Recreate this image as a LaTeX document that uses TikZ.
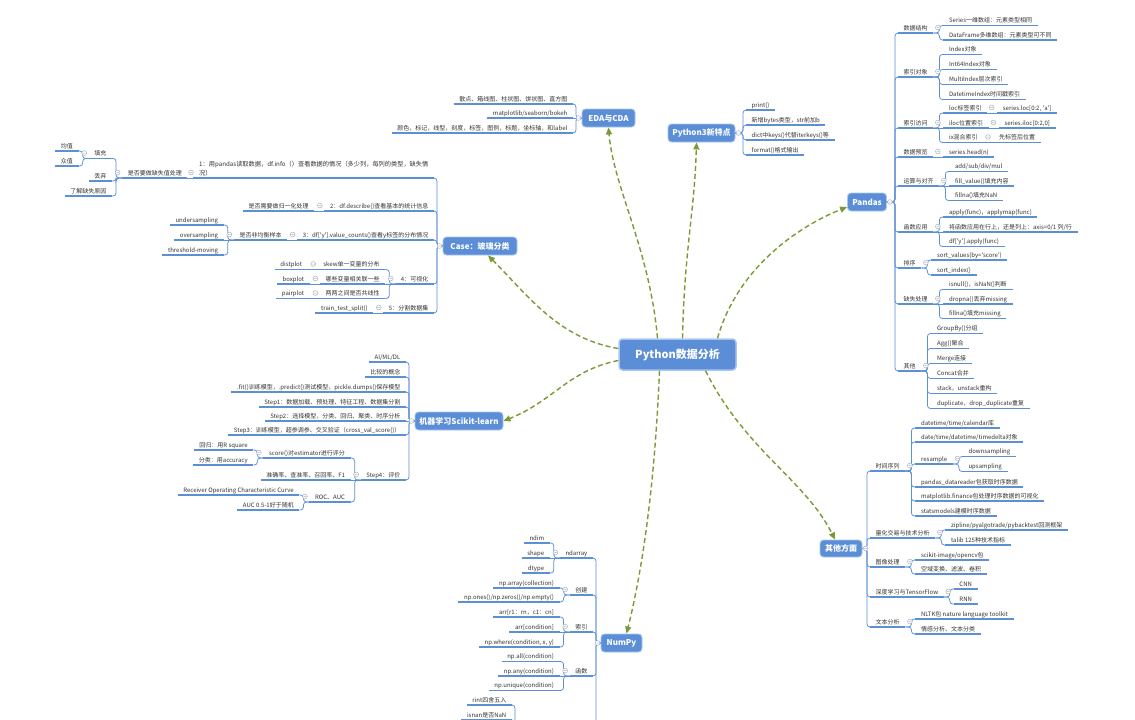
\documentclass[tikz,border=0pt]{standalone}
\usepackage{fontspec}
\setmainfont{Noto Sans CJK SC}[Ligatures=TeXOff]
\usetikzlibrary{calc,arrows.meta}
\definecolor{nblue}{HTML}{5B8ED7}
\definecolor{nborder}{HTML}{A9C6EE}
\definecolor{lblue}{HTML}{5D8FD5}
\definecolor{dgreen}{HTML}{7A9A36}
\definecolor{circ}{HTML}{A6B2C4}
\definecolor{txt}{HTML}{333333}
\tikzset{
  tbase/.style={font=\fontsize{6}{7}\selectfont, text=txt, inner xsep=5.5pt, inner ysep=1.5pt},
  t/.style={tbase, text height=5pt, text depth=1.2pt},
  tr/.style={t, anchor=south west},
  tl/.style={t, anchor=south east},
  topic/.style={rounded corners=3.5pt, fill=nblue, draw=nborder, line width=0.9pt, text=white, font=\bfseries\fontsize{8}{9}\selectfont, minimum height=18pt, inner xsep=2pt, inner ysep=0pt},
  br/.style={draw=lblue, line width=0.75pt, rounded corners=3pt},
  ul/.style={draw=lblue, line width=1.2pt},
  mainarr/.style={draw=dgreen, line width=1.4pt, dash pattern=on 5pt off 3pt, -{Triangle[length=7pt,width=6pt]}},
}
\def\kg{10}
\newcommand\cmk[1]{\fill[white] (#1) circle (2.4pt); \draw[circ, line width=0.5pt] (#1) circle (2.4pt) ($(#1)+(-1.3,0)$) -- ($(#1)+(1.3,0)$);}
\newcommand\cmR[1]{\coordinate (cmtmp) at ($(#1.south east)+(4.5,-5.5)$); \cmk{cmtmp}}
\newcommand\cmL[1]{\coordinate (cmtmp) at ($(#1.south west)+(-4.5,-5.5)$); \cmk{cmtmp}}
\newcommand\kidR[4]{%
  \node[tr] (#2) at ($(#1.south east)+(\kg,#3)$) {#4};
  \ifdim#3pt=0pt \draw[br] (#1.south east) -- (#2.south west);
  \else \draw[br] (#1.south east) -- ++(\kg-4,0) |- (#2.south west);\fi
  \draw[ul] (#2.south west) -- (#2.south east);}
\newcommand\kidL[4]{%
  \node[tl] (#2) at ($(#1.south west)+(-\kg,#3)$) {#4};
  \ifdim#3pt=0pt \draw[br] (#1.south west) -- (#2.south east);
  \else \draw[br] (#1.south west) -- ++(-\kg+4,0) |- (#2.south east);\fi
  \draw[ul] (#2.south west) -- (#2.south east);}
\newcommand\topR[5]{%
  \node[tr] (#2) at (#3,#4) {#5};
  \draw[br] (#1.east) -| ($(#2.south west)+(-3,0)$) -- (#2.south west);
  \draw[ul] (#2.south west) -- (#2.south east);}
\newcommand\topL[5]{%
  \node[tl] (#2) at (#3,#4) {#5};
  \draw[br] (#1.west) -| ($(#2.south east)+(3,0)$) -- (#2.south east);
  \draw[ul] (#2.south west) -- (#2.south east);}
\newcommand\topLs[5]{%
  \node[tl] (#2) at (#3,#4) {#5};
  \draw[br] (#1.west) -- (#2.south east);
  \draw[ul] (#2.south west) -- (#2.south east);}
\begin{document}
\begin{tikzpicture}[x=1pt,y=-1pt]
\useasboundingbox (0,0) rectangle (1135,720);
\clip (0,0) rectangle (1135,720);
\fill[white] (0,0) rectangle (1135,720);

% ---------- main topics ----------
\node[topic, minimum width=117pt, minimum height=31pt, line width=1.5pt, font=\bfseries\fontsize{11}{12}\selectfont] (C) at (677.5,354.5) {Python数据分析};
\node[topic, minimum width=53pt] (EDA) at (608.5,118) {EDA与CDA};
\node[topic, minimum width=67pt] (P3) at (701.5,133) {Python3新特点};
\node[topic, minimum width=39pt] (PD) at (867,202) {Pandas};
\node[topic, minimum width=74pt] (CASE) at (480,246) {Case：玻璃分类};
\node[topic, minimum width=88pt] (ML) at (459,421) {机器学习Scikit-learn};
\node[topic, minimum width=42pt, minimum height=17pt] (OT) at (841,548.5) {其他方面};
\node[topic, minimum width=41pt] (NP) at (621.5,643) {NumPy};

% ---------- dashed main connectors ----------
\draw[mainarr] ([xshift=-20pt]C.north) .. controls +(-8,-90) and +(5,60) .. (EDA.south);
\draw[mainarr] ([xshift=5pt]C.north) .. controls +(2,-90) and +(-2,70) .. ([xshift=-5pt]P3.south);
\draw[mainarr] ([xshift=40pt]C.north) .. controls +(20,-70) and +(-50,20) .. ([yshift=-5pt]PD.west);
\draw[mainarr] ([yshift=6pt]C.west) .. controls +(-60,-10) and +(40,40) .. ([xshift=8pt]CASE.south);
\draw[mainarr] ([yshift=-6pt]C.west) .. controls +(-50,10) and +(50,-20) .. (ML.east);
\draw[mainarr] ([xshift=-18pt]C.south) .. controls +(-5,120) and +(15,-60) .. ([xshift=5pt]NP.north);
\draw[mainarr] ([xshift=28pt]C.south) .. controls +(40,80) and +(-30,-60) .. ([xshift=-6pt]OT.north);

% ---------- Python3 ----------
\topR{P3}{p3a}{746}{110}{print()}
\topR{P3}{p3b}{746}{125}{新增bytes类型，str前加b}
\topR{P3}{p3c}{746}{140}{dict中keys()代替iterkeys()等}
\topR{P3}{p3d}{746}{155}{format()格式输出}
\coordinate (m1) at ($(P3.east)+(3,0)$); \cmk{m1}

% ---------- EDA ----------
\topL{EDA}{e1}{573}{104}{散点、箱线图、柱状图、饼状图、直方图}
\topLs{EDA}{e2}{573}{118}{matplotlib/seaborn/bokeh}
\topL{EDA}{e3}{573}{133}{颜色，标记，线型，刻度，标签，图例，标题，坐标轴，和label}
\coordinate (m2) at ($(EDA.west)+(-3,0)$); \cmk{m2}

% ---------- Pandas ----------
\topR{PD}{pd1}{898}{33}{数据结构}
\kidR{pd1}{pd1a}{-7.5}{Series一维数组：元素类型相同}
\kidR{pd1}{pd1b}{7}{DataFrame多维数组：元素类型可不同}
\cmR{pd1}
\topR{PD}{pd2}{898}{77}{索引对象}
\kidR{pd2}{pd2a}{-22.5}{Index对象}
\kidR{pd2}{pd2b}{-7.5}{Int64Index对象}
\kidR{pd2}{pd2c}{7.5}{MultiIndex层次索引}
\kidR{pd2}{pd2d}{22.5}{DatetimeIndex时间戳索引}
\cmR{pd2}
\topR{PD}{pd3}{898}{128}{索引访问}
\kidR{pd3}{pd3a}{-15}{loc标签索引}
\kidR{pd3a}{pd3aa}{0}{series.loc[0:2, 'a']}
\cmR{pd3a}
\kidR{pd3}{pd3b}{0}{iloc位置索引}
\kidR{pd3b}{pd3bb}{0}{series.iloc[0:2,0]}
\cmR{pd3b}
\kidR{pd3}{pd3c}{14.5}{ix混合索引}
\kidR{pd3c}{pd3cc}{0}{先标签后位置}
\cmR{pd3c}
\cmR{pd3}
\topR{PD}{pd4}{898}{157}{数据预览}
\kidR{pd4}{pd4a}{0}{series.head(n)}
\cmR{pd4}
\topR{PD}{pd5}{898}{186}{运算与对齐}
\kidR{pd5}{pd5a}{-14.5}{add/sub/div/mul}
\kidR{pd5}{pd5b}{0}{fill\_value()填充内容}
\kidR{pd5}{pd5c}{14.5}{fillna()填充NaN}
\cmR{pd5}
\topR{PD}{pd6}{898}{232}{函数应用}
\kidR{pd6}{pd6a}{-15}{apply(func)，applymap(func)}
\kidR{pd6}{pd6b}{0}{将函数应用在行上，还是列上：axis=0/1 列/行}
\kidR{pd6}{pd6c}{14.5}{df['y'].apply(func)}
\cmR{pd6}
\topR{PD}{pd7}{898}{268}{排序}
\kidR{pd7}{pd7a}{-8}{sort\_values(by='score')}
\kidR{pd7}{pd7b}{7}{sort\_index()}
\cmR{pd7}
\topR{PD}{pd8}{898}{304}{缺失处理}
\kidR{pd8}{pd8a}{-14.5}{isnull()，isNaN()判断}
\kidR{pd8}{pd8b}{0}{dropna()丢弃missing}
\kidR{pd8}{pd8c}{14.5}{fillna()填充missing}
\cmR{pd8}
\topR{PD}{pd9}{898}{371}{其他}
\kidR{pd9}{pd9a}{-37.5}{GroupBy()分组}
\kidR{pd9}{pd9b}{-22.5}{Agg()聚合}
\kidR{pd9}{pd9c}{-7.5}{Merge连接}
\kidR{pd9}{pd9d}{7.5}{Concat合并}
\kidR{pd9}{pd9e}{22.5}{stack，unstack重构}
\kidR{pd9}{pd9f}{37.5}{duplicate，drop\_duplicate重复}
\cmR{pd9}
\coordinate (m3) at ($(PD.east)+(3,0)$); \cmk{m3}

% ---------- Other ----------
\topR{OT}{ot1}{870}{471}{时间序列}
\kidR{ot1}{ot1a}{-43}{datetime/time/calendar库}
\kidR{ot1}{ot1b}{-29}{date/time/datetime/timedelta对象}
\kidR{ot1}{ot1c}{-7}{resample}
\kidR{ot1c}{ot1c1}{-7.5}{downsampling}
\kidR{ot1c}{ot1c2}{7.5}{upsampling}
\cmR{ot1c}
\kidR{ot1}{ot1d}{16}{pandas\_datareader包获取时序数据}
\kidR{ot1}{ot1e}{30}{matplotlib.finance包处理时序数据的可视化}
\kidR{ot1}{ot1f}{45}{statsmodels建模时序数据}
\cmR{ot1}
\topR{OT}{ot2}{870}{538}{量化交易与技术分析}
\kidR{ot2}{ot2a}{-8}{zipline/pyalgotrade/pybacktest回测框架}
\kidR{ot2}{ot2b}{7}{talib 125种技术指标}
\cmR{ot2}
\topR{OT}{ot3}{870}{567}{图像处理}
\kidR{ot3}{ot3a}{-7}{scikit-image/opencv包}
\kidR{ot3}{ot3b}{7}{空域变换、滤波、卷积}
\cmR{ot3}
\topR{OT}{ot4}{870}{597}{深度学习与TensorFlow}
\kidR{ot4}{ot4a}{-8}{CNN}
\kidR{ot4}{ot4b}{7}{RNN}
\cmR{ot4}
\topR{OT}{ot5}{870}{627}{文本分析}
\kidR{ot5}{ot5a}{-8}{NLTK包 nature language toolkit}
\kidR{ot5}{ot5b}{7}{情感分析、文本分类}
\cmR{ot5}
\coordinate (m4) at ($(OT.east)+(3,0)$); \cmk{m4}

% ---------- Case ----------
\node[tbase, anchor=south east, align=left, font=\fontsize{6.2}{9}\selectfont] (c1) at (434,178) {1：用pandas读取数据，df.info（）查看数据的情况（多少列，每列的类型，缺失情\\况）};
\draw[br] (CASE.west) -| ($(c1.south east)+(3,0)$) -- (c1.south east);
\draw[ul] (c1.south west) -- (c1.south east);
\def\kg{6}
\kidL{c1}{c1a}{0}{是否要做缺失值处理}
\def\kg{10}
\kidL{c1a}{c1a1}{-19.5}{填充}
\kidL{c1a1}{c1a11}{-7.5}{均值}
\kidL{c1a1}{c1a12}{7.5}{众值}
\cmL{c1a1}
\kidL{c1a}{c1a2}{3}{丢弃}
\kidL{c1a}{c1a3}{18}{了解缺失原因}
\cmL{c1a}
\coordinate (m8) at ($(c1.south west)+(-2.5,-5.5)$); \cmk{m8}
\topL{CASE}{c2}{434}{211}{2：df.describe()查看基本的统计信息}
\kidL{c2}{c2a}{0}{是否需要做归一化处理}
\cmL{c2}
\topL{CASE}{c3}{434}{240}{3：df['y'].value\_counts()查看y标签的分布情况}
\kidL{c3}{c3a}{0}{是否非均衡样本}
\kidL{c3a}{c3a1}{-15}{undersampling}
\kidL{c3a}{c3a2}{0}{oversampling}
\kidL{c3a}{c3a3}{15}{threshold-moving}
\cmL{c3a}
\cmL{c3}
\topL{CASE}{c4}{434}{284}{4：可视化}
\kidL{c4}{c4a}{-14.5}{skew单一变量的分布}
\kidL{c4a}{c4a1}{0}{distplot}
\cmL{c4a}
\kidL{c4}{c4b}{0}{哪些变量相关联一些}
\kidL{c4b}{c4b1}{0}{boxplot}
\cmL{c4b}
\kidL{c4}{c4c}{14.5}{两两之间是否共线性}
\kidL{c4c}{c4c1}{0}{pairplot}
\cmL{c4c}
\cmL{c4}
\topL{CASE}{c5}{434}{313}{5：分割数据集}
\kidL{c5}{c5a}{0}{train\_test\_split()}
\cmL{c5}
\coordinate (m5) at ($(CASE.west)+(-3,0)$); \cmk{m5}

% ---------- ML ----------
\topL{ML}{ml1}{406}{362}{AI/ML/DL}
\topL{ML}{ml2}{406}{377}{比较的概念}
\topL{ML}{ml3}{406}{392}{.fit()训练模型，.predict()测试模型，pickle.dumps()保存模型}
\topL{ML}{ml4}{406}{407}{Step1：数据加载、预处理、特征工程、数据集分割}
\topLs{ML}{ml5}{406}{421}{Step2：选择模型，分类、回归、聚类、时序分析}
\topL{ML}{ml6}{406}{435}{Step3：训练模型，超参调参、交叉验证（cross\_val\_score()）}
\topL{ML}{ml7}{406}{480}{Step4：评价}
\kidL{ml7}{ml7a}{-22}{score()对estimator进行评分}
\kidL{ml7a}{ml7a1}{-8}{回归：用R square}
\kidL{ml7a}{ml7a2}{7}{分类：用accuracy}
\cmL{ml7a}
\kidL{ml7}{ml7b}{0}{准确率、查准率、召回率、F1}
\kidL{ml7}{ml7c}{22}{ROC、AUC}
\kidL{ml7c}{ml7c1}{-7}{Receiver Operating Characteristic Curve}
\kidL{ml7c}{ml7c2}{8}{AUC 0.5-1好于随机}
\cmL{ml7c}
\cmL{ml7}
\coordinate (m6) at ($(ML.west)+(-3,0)$); \cmk{m6}

% ---------- NumPy ----------
\topL{NP}{n1}{593}{558}{ndarray}
\kidL{n1}{n1a}{-15}{ndim}
\kidL{n1}{n1b}{0}{shape}
\kidL{n1}{n1c}{15}{dtype}
\cmL{n1}
\topL{NP}{n2}{593}{595}{创建}
\kidL{n2}{n2a}{-7}{np.array(collection)}
\kidL{n2}{n2b}{7}{np.ones()/np.zeros()/np.empty()}
\cmL{n2}
\topL{NP}{n3}{593}{632}{索引}
\kidL{n3}{n3a}{-15}{arr[r1：rn，c1：cn]}
\kidL{n3}{n3b}{0}{arr[condition]}
\kidL{n3}{n3c}{15}{np.where(condition, x, y)}
\cmL{n3}
\topL{NP}{n4}{593}{676}{函数}
\kidL{n4}{n4a}{-14.5}{np.all(condition)}
\kidL{n4}{n4b}{0}{np.any(condition)}
\kidL{n4}{n4c}{14.5}{np.unique(condition)}
\cmL{n4}
\coordinate (n5) at (518,727);
\draw[br] (NP.west) -| (596,730);
\node[tl] (n5a) at (512,705) {rint四舍五入};
\node[tl] (n5b) at (512,720) {isnan是否NaN};
\draw[br] (n5) -- ++(-3,0) |- (n5a.south east);
\draw[br] (n5) -- ++(-3,0) |- (n5b.south east);
\draw[ul] (n5a.south west) -- (n5a.south east);
\draw[ul] (n5b.south west) -- (n5b.south east);
\coordinate (m7) at ($(NP.west)+(-3,0)$); \cmk{m7}
\end{tikzpicture}
\end{document}
